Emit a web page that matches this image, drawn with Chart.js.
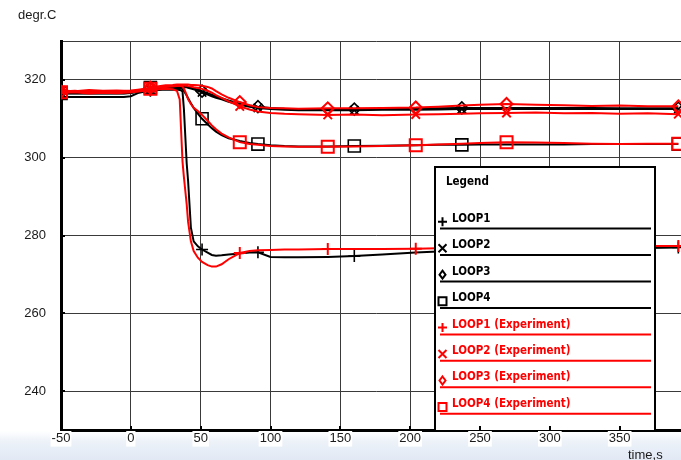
<!DOCTYPE html>
<html>
<head>
<meta charset="utf-8">
<script src="https://cdn.jsdelivr.net/npm/chart.js@4.4.1/dist/chart.umd.min.js"></script>
<style>
  html, body { margin: 0; padding: 0; overflow: hidden; background: #fff; }
  #wrap { width: 700px; height: 460px; }
</style>
</head>
<body>
<div id="wrap"><canvas id="c" width="700" height="460"></canvas></div>
<script>
// Sample times, s
const timeS = [
  -50, -40, -30, -20, -10,
  -5, 0, 5, 10, 14,
  20, 25, 30, 33, 35,
  36, 37, 38, 39, 40,
  41, 43, 45, 48, 51,
  55, 58, 61, 65, 70,
  78, 85, 91, 100, 110,
  120, 141, 160, 180, 204,
  220, 237, 250, 269, 290,
  310, 330, 350, 370, 392
];

// Calculated temperatures, degr.C
const loop1Sim = [
  315.6, 315.6, 315.6, 315.6, 315.6,
  315.6, 315.8, 316.6, 317.0, 317.2,
  317.4, 317.5, 317.5, 317.5, 317.4,
  317.3, 317.0, 312.5, 305.5, 298.5,
  294.0, 282.0, 278.5, 277.2, 276.4,
  275.6, 275.0, 274.8, 274.9, 275.1,
  275.4, 275.6, 275.7, 274.5, 274.4,
  274.4, 274.5, 274.7, 275.1, 275.6,
  275.9, 276.1, 276.2, 276.3, 276.4,
  276.5, 276.6, 276.7, 276.8, 276.9
];
const loop2Sim = [
  316.6, 316.6, 316.6, 316.6, 316.6,
  316.6, 316.7, 317.0, 317.3, 317.6,
  317.8, 318.0, 318.1, 318.2, 318.2,
  318.2, 318.2, 318.2, 318.1, 318.1,
  318.0, 317.8, 317.6, 317.2, 316.8,
  316.2, 315.8, 315.4, 315.0, 314.4,
  313.6, 313.1, 312.8, 312.5, 312.3,
  312.2, 312.2, 312.2, 312.3, 312.3,
  312.4, 312.5, 312.5, 312.5, 312.5,
  312.5, 312.5, 312.5, 312.5, 312.5
];
const loop3Sim = [
  316.8, 316.8, 316.8, 316.8, 316.8,
  316.8, 316.9, 317.2, 317.5, 317.8,
  318.0, 318.2, 318.3, 318.4, 318.4,
  318.4, 318.4, 318.4, 318.3, 318.3,
  318.2, 318.0, 317.8, 317.5, 317.1,
  316.6, 316.2, 315.8, 315.3, 314.7,
  313.9, 313.4, 313.1, 312.8, 312.6,
  312.5, 312.5, 312.5, 312.6, 312.6,
  312.7, 312.8, 312.8, 312.8, 312.8,
  312.8, 312.8, 312.7, 312.7, 312.7
];
const loop4Sim = [
  316.5, 316.5, 316.5, 316.5, 316.5,
  316.5, 316.6, 317.0, 317.5, 318.0,
  318.0, 318.0, 317.9, 317.9, 317.8,
  317.8, 317.6, 317.2, 316.6, 316.0,
  315.3, 314.0, 312.8, 311.3, 310.0,
  308.6, 307.6, 306.7, 305.8, 305.0,
  304.3, 303.8, 303.5, 303.2, 303.0,
  302.9, 302.9, 303.0, 303.1, 303.2,
  303.3, 303.3, 303.4, 303.4, 303.4,
  303.4, 303.5, 303.5, 303.5, 303.5
];

// Measured temperatures, degr.C
const loop1Exp = [
  316.6, 316.8, 316.5, 316.7, 316.6,
  316.7, 316.8, 317.0, 317.2, 317.4,
  317.6, 317.7, 317.6, 317.2, 315.0,
  307.0, 299.0, 295.0, 291.5, 288.0,
  283.5, 278.5, 276.0, 274.3, 273.2,
  272.4, 272.0, 272.0, 272.6, 273.9,
  275.5, 276.0, 276.2, 276.3, 276.4,
  276.4, 276.5, 276.5, 276.5, 276.6,
  276.7, 276.8, 276.8, 276.9, 277.0,
  277.0, 277.1, 277.2, 277.3, 277.3
];
const loop2Exp = [
  317.3, 317.1, 317.4, 317.2, 317.3,
  317.2, 317.3, 317.5, 317.7, 317.9,
  318.2, 318.4, 318.5, 318.6, 318.6,
  318.6, 318.6, 318.6, 318.5, 318.5,
  318.4, 318.3, 318.1, 317.9, 317.7,
  317.2, 316.7, 316.1, 315.4, 314.5,
  313.2, 312.4, 311.9, 311.5, 311.3,
  311.2, 311.0, 311.1, 310.9, 311.1,
  311.2, 311.3, 311.4, 311.5, 311.6,
  311.4, 311.5, 311.3, 311.4, 311.2
];
const loop3Exp = [
  317.0, 317.2, 316.9, 317.1, 317.0,
  317.1, 317.0, 317.3, 317.6, 318.0,
  318.4, 318.6, 318.7, 318.8, 318.8,
  318.8, 318.8, 318.8, 318.8, 318.8,
  318.8, 318.7, 318.7, 318.6, 318.5,
  318.2, 317.8, 317.1, 316.3, 315.4,
  314.3, 313.5, 313.0, 312.8, 312.7,
  312.6, 312.7, 312.7, 312.8, 312.9,
  313.1, 313.4, 313.6, 313.8, 313.6,
  313.5, 313.3, 313.4, 313.2, 313.2
];
const loop4Exp = [
  316.8, 317.0, 316.7, 316.9, 316.8,
  316.9, 316.8, 317.1, 317.4, 317.7,
  318.0, 318.2, 318.3, 318.4, 318.4,
  318.4, 318.3, 317.8, 317.0, 316.0,
  315.0, 313.8, 312.8, 312.0, 311.0,
  309.5, 308.3, 307.3, 306.2, 305.2,
  304.0, 303.5, 303.3, 303.0, 302.9,
  302.8, 302.8, 302.9, 303.0, 303.2,
  303.4, 303.6, 303.8, 304.0, 303.9,
  303.8, 303.6, 303.5, 303.6, 303.6
];

// Times at which markers are plotted
const simMarkT = [-50, 14, 51, 91, 160, 237, 392];
const expMarkT = [-50, 14, 78, 141, 204, 269, 392];

const seriesNames = [
  'LOOP1', 'LOOP2', 'LOOP3', 'LOOP4',
  'LOOP1 (Experiment)', 'LOOP2 (Experiment)', 'LOOP3 (Experiment)', 'LOOP4 (Experiment)'
];
const xTickValues = [-50, 0, 50, 100, 150, 200, 250, 300, 350];
const yTickValues = [240, 260, 280, 300, 320];

const BLACK = '#000000';
const RED = '#ff0000';
const markerStyles = ['cross', 'crossRot', 'rectRot', 'rect'];

function makeSet(idx, values, color, marks, order) {
  const style = markerStyles[idx % 4];
  return {
    label: seriesNames[idx],
    data: timeS.map((t, i) => ({ x: t, y: values[i] })),
    borderColor: color,
    borderWidth: 2,
    fill: false,
    tension: 0,
    pointStyle: style,
    pointRadius: ctx => (ctx.raw && marks.includes(ctx.raw.x)) ? (style === 'rect' ? 8.5 : 6) : 0,
    pointHoverRadius: 0,
    pointBorderColor: color,
    pointBackgroundColor: 'rgba(0,0,0,0)',
    pointBorderWidth: color === BLACK ? 1.6 : 2,
    order: order
  };
}

const datasets = [
  makeSet(0, loop1Sim, BLACK, simMarkT, 1),
  makeSet(1, loop2Sim, BLACK, simMarkT, 1),
  makeSet(2, loop3Sim, BLACK, simMarkT, 1),
  makeSet(3, loop4Sim, BLACK, simMarkT, 1),
  makeSet(4, loop1Exp, RED, expMarkT, 0),
  makeSet(5, loop2Exp, RED, expMarkT, 0),
  makeSet(6, loop3Exp, RED, expMarkT, 0),
  makeSet(7, loop4Exp, RED, expMarkT, 0)
];

const LABEL_FONT = '13px "Liberation Sans", Arial, sans-serif';
const LEGEND_FONT = 'bold 11.5px "DejaVu Sans Condensed", "DejaVu Sans", sans-serif';

// Page background with the pale band under the axis
const backdropPlugin = {
  id: 'backdrop',
  beforeDraw(chart) {
    const c = chart.ctx;
    c.save();
    c.fillStyle = '#ffffff';
    c.fillRect(0, 0, chart.width, chart.height);
    const g = c.createLinearGradient(0, 431, 0, chart.height);
    g.addColorStop(0, '#ffffff');
    g.addColorStop(0.35, '#edf2f9');
    g.addColorStop(1, '#e1e9f4');
    c.fillStyle = g;
    c.fillRect(0, 431, chart.width, chart.height - 431);
    c.restore();
  }
};

// Short tick marks on the inner side of both axes
const innerTicksPlugin = {
  id: 'innerTicks',
  afterDraw(chart) {
    const c = chart.ctx;
    const a = chart.chartArea;
    const xs = chart.scales.x, ys = chart.scales.y;
    c.save();
    c.strokeStyle = '#000';
    c.lineWidth = 2;
    c.beginPath();
    xTickValues.forEach(v => {
      const px = Math.round(xs.getPixelForValue(v));
      c.moveTo(px, a.bottom);
      c.lineTo(px, a.bottom - 4);
    });
    yTickValues.forEach(v => {
      const py = Math.round(ys.getPixelForValue(v));
      c.moveTo(a.left, py);
      c.lineTo(a.left + 4, py);
    });
    c.stroke();
    c.restore();
  }
};

// Axis captions
const captionPlugin = {
  id: 'captions',
  afterDraw(chart) {
    const c = chart.ctx;
    c.save();
    c.font = LABEL_FONT;
    c.fillStyle = '#1a1a1a';
    c.textBaseline = 'middle';
    c.textAlign = 'left';
    c.fillText('degr.C', 18, 15);
    c.fillText('time,s', 628, 455);
    c.restore();
  }
};

function drawMarker(c, style, x, y) {
  c.beginPath();
  if (style === 'cross') {
    c.moveTo(x - 4.5, y); c.lineTo(x + 4.5, y);
    c.moveTo(x, y - 4.5); c.lineTo(x, y + 4.5);
  } else if (style === 'crossRot') {
    c.moveTo(x - 4, y - 4); c.lineTo(x + 4, y + 4);
    c.moveTo(x + 4, y - 4); c.lineTo(x - 4, y + 4);
  } else if (style === 'rectRot') {
    c.moveTo(x, y - 4); c.lineTo(x + 3, y); c.lineTo(x, y + 4); c.lineTo(x - 3, y); c.closePath();
  } else {
    c.rect(x - 4, y - 4, 8, 8);
  }
  c.stroke();
}

// Boxed legend drawn over the plot area
const boxLegendPlugin = {
  id: 'boxLegend',
  afterDatasetsDraw(chart) {
    const c = chart.ctx;
    const a = chart.chartArea;
    const box = { left: 435, top: 167, right: 655 };
    c.save();
    c.beginPath();
    c.rect(a.left, a.top, a.right - a.left, a.bottom - a.top);
    c.clip();
    c.fillStyle = '#ffffff';
    c.fillRect(box.left, box.top, box.right - box.left, a.bottom - box.top + 5);
    c.strokeStyle = '#000';
    c.lineWidth = 2;
    c.strokeRect(box.left, box.top, box.right - box.left, a.bottom - box.top + 5);

    c.font = LEGEND_FONT;
    c.textBaseline = 'middle';
    c.textAlign = 'left';
    c.fillStyle = '#000';
    c.fillText('Legend', 446, 182);

    chart.data.datasets.forEach((ds, i) => {
      const y = 218.8 + i * 26.45;
      const col = ds.borderColor;
      c.strokeStyle = col;
      c.fillStyle = col;
      c.lineWidth = 2;
      drawMarker(c, ds.pointStyle, 442.5, y + 3);
      c.fillText(ds.label, 452, y);
      c.beginPath();
      c.moveTo(440, y + 9.8);
      c.lineTo(651, y + 9.8);
      c.stroke();
    });
    c.restore();
  }
};

new Chart(document.getElementById('c'), {
  type: 'line',
  data: { datasets: datasets },
  plugins: [backdropPlugin, innerTicksPlugin, captionPlugin, boxLegendPlugin],
  options: {
    responsive: false,
    animation: false,
    devicePixelRatio: 1,
    layout: { padding: { left: 0, top: 41, right: 9, bottom: 0 } },
    plugins: { legend: { display: false }, tooltip: { enabled: false } },
    scales: {
      x: {
        type: 'linear',
        min: -50,
        max: 400,
        afterBuildTicks: s => { s.ticks = [...xTickValues, 400].map(v => ({ value: v })); },
        afterFit: s => { s.height = 30; },
        grid: { color: '#3a3a3a', lineWidth: 1, drawTicks: false },
        border: { color: '#000', width: 3 },
        ticks: {
          autoSkip: false,
          maxRotation: 0,
          padding: 1,
          color: '#1a1a1a',
          font: { family: '"Liberation Sans", Arial, sans-serif', size: 13 },
          showLabelBackdrop: true,
          backdropColor: '#ffffff',
          backdropPadding: { top: 0, bottom: 0, left: 1, right: 1 },
          callback: v => xTickValues.includes(v) ? String(v) : ''
        }
      },
      y: {
        type: 'linear',
        min: 230,
        max: 330,
        afterBuildTicks: s => { s.ticks = [230, ...yTickValues, 330].map(v => ({ value: v })); },
        afterFit: s => { s.width = 61; },
        grid: { color: '#3a3a3a', lineWidth: 1, drawTicks: false },
        border: { color: '#000', width: 3 },
        ticks: {
          padding: 15,
          color: '#1a1a1a',
          font: { family: '"Liberation Sans", Arial, sans-serif', size: 13 },
          callback: v => yTickValues.includes(v) ? String(v) : ''
        }
      }
    }
  }
});
</script>
</body>
</html>
